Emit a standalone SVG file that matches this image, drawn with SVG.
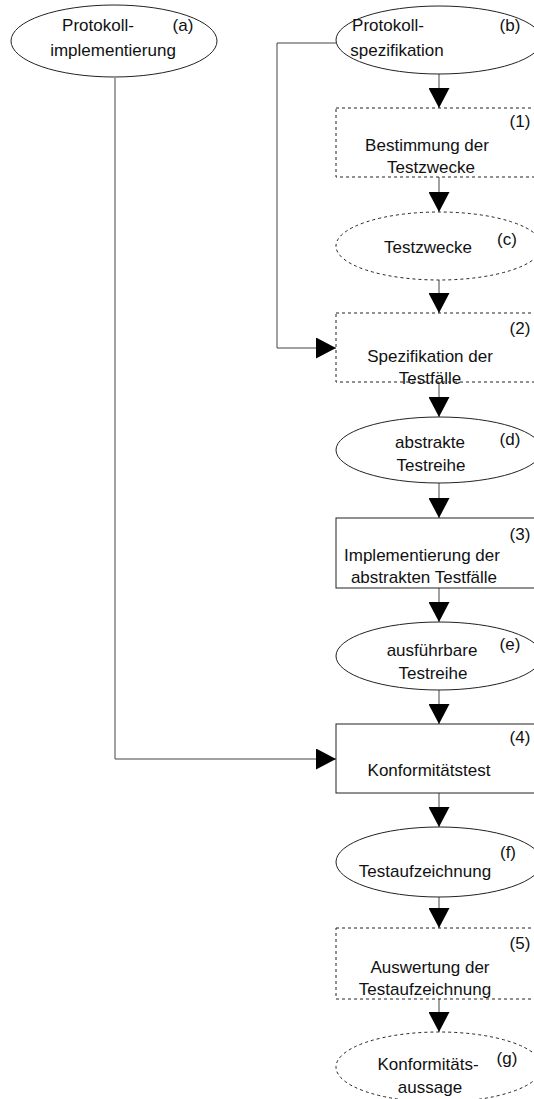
<svg xmlns="http://www.w3.org/2000/svg" width="534" height="1099" viewBox="0 0 534 1099">
<style>
.s{fill:#fff;stroke:#222;stroke-width:1}
.d{stroke-dasharray:3 3}
.t{font-family:"Liberation Sans",Arial,sans-serif;font-size:17px;fill:#111;text-anchor:middle}
.c{fill:none;stroke:#444;stroke-width:1}
</style>
<defs>
<marker id="ah" viewBox="0 0 20 21" refX="20" refY="10.5" markerWidth="20" markerHeight="21" markerUnits="userSpaceOnUse" orient="auto">
<path d="M0,0 L20,10.5 L0,21 z" fill="#000"/>
</marker>
</defs>
<rect width="534" height="1099" fill="#fff"/>
<g id="connectors">
<path class="c" d="M115,78 V759 H336" marker-end="url(#ah)"/>
<path class="c" d="M336,43 H277 V348 H336" marker-end="url(#ah)"/>
<path class="c" d="M439,74 V108" marker-end="url(#ah)"/>
<path class="c" d="M439,177 V212" marker-end="url(#ah)"/>
<path class="c" d="M439,280 V313" marker-end="url(#ah)"/>
<path class="c" d="M439,382 V417" marker-end="url(#ah)"/>
<path class="c" d="M439,483 V518" marker-end="url(#ah)"/>
<path class="c" d="M439,588 V622" marker-end="url(#ah)"/>
<path class="c" d="M439,690 V724" marker-end="url(#ah)"/>
<path class="c" d="M439,793 V827" marker-end="url(#ah)"/>
<path class="c" d="M439,897 V928" marker-end="url(#ah)"/>
<path class="c" d="M439,999 V1032" marker-end="url(#ah)"/>
</g>
<g id="node-a">
<ellipse class="s" cx="114" cy="41" rx="103" ry="36"/>
<text class="t" x="98" y="31">Protokoll-</text>
<text class="t" x="183" y="31">(a)</text>
<text class="t" x="113" y="56">implementierung</text>
</g>
<g id="node-b">
<ellipse class="s" cx="439" cy="40" rx="103" ry="34"/>
<text class="t" x="388" y="31">Protokoll-</text>
<text class="t" x="510" y="31">(b)</text>
<text class="t" x="397" y="56">spezifikation</text>
</g>
<g id="node-1">
<rect class="s d" x="336" y="108" width="206" height="69"/>
<text class="t" x="520" y="127">(1)</text>
<text class="t" x="427" y="151">Bestimmung der</text>
<text class="t" x="431" y="173">Testzwecke</text>
</g>
<g id="node-c">
<ellipse class="s d" cx="439" cy="246" rx="103" ry="34"/>
<text class="t" x="428" y="253">Testzwecke</text>
<text class="t" x="507" y="245">(c)</text>
</g>
<g id="node-2">
<rect class="s d" x="336" y="313" width="206" height="69"/>
<text class="t" x="520" y="334">(2)</text>
<text class="t" x="430" y="362">Spezifikation der</text>
<text class="t" x="430" y="384">Testfälle</text>
</g>
<g id="node-d">
<ellipse class="s" cx="439" cy="450" rx="103" ry="33"/>
<text class="t" x="430" y="448">abstrakte</text>
<text class="t" x="510" y="445">(d)</text>
<text class="t" x="431" y="471">Testreihe</text>
</g>
<g id="node-3">
<rect class="s" x="336" y="518" width="206" height="70"/>
<text class="t" x="520" y="540">(3)</text>
<text class="t" x="422" y="561">Implementierung der</text>
<text class="t" x="424" y="583">abstrakten Testfälle</text>
</g>
<g id="node-e">
<ellipse class="s" cx="439" cy="656" rx="103" ry="34"/>
<text class="t" x="432" y="656">ausführbare</text>
<text class="t" x="510" y="650">(e)</text>
<text class="t" x="433" y="679">Testreihe</text>
</g>
<g id="node-4">
<rect class="s" x="336" y="724" width="206" height="69"/>
<text class="t" x="520" y="743">(4)</text>
<text class="t" x="429" y="776">Konformitätstest</text>
</g>
<g id="node-f">
<ellipse class="s" cx="439" cy="862" rx="103" ry="35"/>
<text class="t" x="508" y="858">(f)</text>
<text class="t" x="425" y="877">Testaufzeichnung</text>
</g>
<g id="node-5">
<rect class="s d" x="336" y="928" width="206" height="71"/>
<text class="t" x="520" y="949">(5)</text>
<text class="t" x="430" y="973">Auswertung der</text>
<text class="t" x="425" y="995">Testaufzeichnung</text>
</g>
<g id="node-g">
<ellipse class="s d" cx="439" cy="1067" rx="103" ry="35"/>
<text class="t" x="507" y="1064">(g)</text>
<text class="t" x="428" y="1070">Konformitäts-</text>
<text class="t" x="430" y="1093">aussage</text>
</g>
</svg>
